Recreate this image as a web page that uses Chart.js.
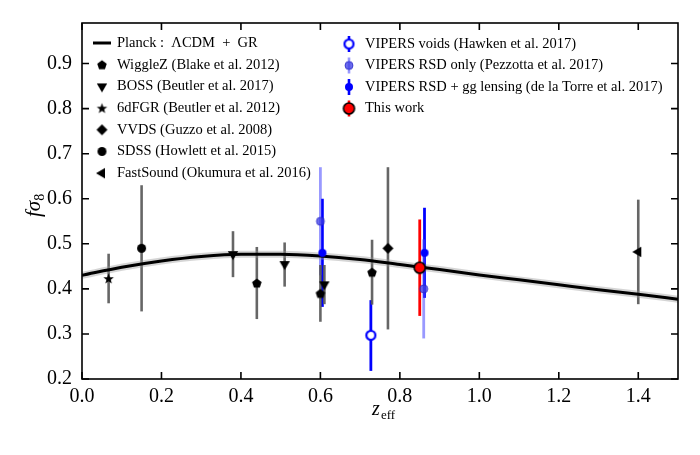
<!DOCTYPE html>
<html>
<head>
<meta charset="utf-8">
<script src="https://cdn.jsdelivr.net/npm/chart.js@4/dist/chart.umd.min.js"></script>
<style>
  html, body { margin: 0; padding: 0; background: #fff; }
  #wrap { width: 700px; height: 455px; }
</style>
</head>
<body>
<div id="wrap"><canvas id="chart" width="700" height="455"></canvas></div>
<script>
const xTicks = [0.0, 0.2, 0.4, 0.6, 0.8, 1.0, 1.2, 1.4]
const yTicks = [0.2, 0.3, 0.4, 0.5, 0.6, 0.7, 0.8, 0.9]

// Planck LCDM + GR prediction
const modelZ = [0.0, 0.1, 0.2, 0.3, 0.4, 0.5, 0.6, 0.7, 0.8, 0.9, 1.0, 1.1, 1.2, 1.3, 1.4, 1.5]
const modelF = [0.430, 0.448, 0.462, 0.472, 0.477, 0.477, 0.473, 0.465, 0.454, 0.443, 0.431, 0.420, 0.409, 0.398, 0.388, 0.377]

// measurements: z, f sigma8, lower / upper error
const wiggleZ = { z: [0.44, 0.60, 0.73], f: [0.413, 0.390, 0.437], lo: [0.080, 0.063, 0.072], hi: [0.080, 0.063, 0.072] }
const boss = { z: [0.38, 0.51, 0.61], f: [0.477, 0.455, 0.410], lo: [0.051, 0.050, 0.044], hi: [0.051, 0.048, 0.043] }
const sixdf = { z: [0.067], f: [0.423], lo: [0.055], hi: [0.055] }
const vvds = { z: [0.77], f: [0.490], lo: [0.180], hi: [0.180] }
const sdss = { z: [0.15], f: [0.490], lo: [0.140], hi: [0.140] }
const fastSound = { z: [1.40], f: [0.482], lo: [0.116], hi: [0.116] }
const voids = { z: [0.727], f: [0.297], lo: [0.079], hi: [0.078] }
const rsdOnly = { z: [0.60, 0.86], f: [0.550, 0.400], lo: [0.120, 0.110], hi: [0.120, 0.110] }
const rsdLensing = { z: [0.605, 0.862], f: [0.480, 0.480], lo: [0.120, 0.100], hi: [0.120, 0.100] }
const thisWork = { z: [0.85], f: [0.447], lo: [0.107], hi: [0.107] }

const GRAY = 'rgba(85,85,85,0.9)'
const BLUE = '#0000ff'

function marker(shape, size, fill, stroke, lw) {
  const c = document.createElement('canvas')
  c.width = c.height = size + 4
  const ctx = c.getContext('2d')
  const m = c.width / 2, r = size / 2
  ctx.beginPath()
  if (shape === 'circle') {
    ctx.arc(m, m, r, 0, Math.PI * 2)
  } else if (shape === 'down' || shape === 'left') {
    const a0 = shape === 'down' ? Math.PI / 2 : Math.PI
    for (let i = 0; i < 3; i++) {
      const a = a0 + i * 2 * Math.PI / 3
      ctx.lineTo(m + r * Math.cos(a), m + r * Math.sin(a))
    }
  } else if (shape === 'diamond') {
    ctx.moveTo(m, m - r); ctx.lineTo(m + r, m); ctx.lineTo(m, m + r); ctx.lineTo(m - r, m)
  } else if (shape === 'pentagon') {
    for (let i = 0; i < 5; i++) {
      const a = -Math.PI / 2 + i * 2 * Math.PI / 5
      ctx.lineTo(m + r * Math.cos(a), m + r * Math.sin(a) + 0.5)
    }
  } else if (shape === 'star') {
    for (let i = 0; i < 10; i++) {
      const a = -Math.PI / 2 + i * Math.PI / 5
      const rr = i % 2 ? r * 0.42 : r
      ctx.lineTo(m + rr * Math.cos(a), m + rr * Math.sin(a) + 0.5)
    }
  }
  ctx.closePath()
  ctx.fillStyle = fill
  ctx.fill()
  if (stroke) { ctx.lineWidth = lw; ctx.strokeStyle = stroke; ctx.stroke() }
  return c
}

const mk = {
  pentagon: marker('pentagon', 10, '#000'),
  down: marker('down', 12, '#000'),
  star: marker('star', 11, '#000'),
  diamond: marker('diamond', 11, '#000'),
  circle: marker('circle', 9, '#000'),
  left: marker('left', 12, '#000'),
  voids: marker('circle', 9, '#fff', BLUE, 2.2),
  rsdOnly: marker('circle', 8, 'rgba(60,60,230,0.75)', 'rgba(40,40,200,0.8)', 1),
  rsdLensing: marker('circle', 8, BLUE),
  thisWork: marker('circle', 11, '#ff0000', '#000', 1.6)
}

function pts(s) { return s.z.map((z, i) => ({ x: z, y: s.f[i] })) }

function series(label, s, style, barColor, barWidth) {
  return { label, data: pts(s), pointStyle: style, pointRadius: 5, pointHoverRadius: 5, showLine: false,
    err: s, barColor, barWidth }
}

const datasets = [
  series('This work', thisWork, mk.thisWork, '#ff0000', 2.8),
  series('VIPERS RSD + gg lensing', rsdLensing, mk.rsdLensing, BLUE, 2.8),
  series('VIPERS RSD only', rsdOnly, mk.rsdOnly, 'rgba(70,70,255,0.55)', 2.8),
  series('VIPERS voids', voids, mk.voids, BLUE, 2.8),
  series('WiggleZ', wiggleZ, mk.pentagon, GRAY, 2.6),
  series('BOSS', boss, mk.down, GRAY, 2.6),
  series('6dFGR', sixdf, mk.star, GRAY, 2.6),
  series('VVDS', vvds, mk.diamond, GRAY, 2.6),
  series('SDSS', sdss, mk.circle, GRAY, 2.6),
  series('FastSound', fastSound, mk.left, GRAY, 2.6),
  { label: 'Planck', type: 'line', data: modelZ.map((z, i) => ({ x: z, y: modelF[i] })),
    borderColor: '#000', borderWidth: 3, pointRadius: 0, tension: 0.4, cubicInterpolationMode: 'monotone' },
  { label: 'band', type: 'line', data: modelZ.map((z, i) => ({ x: z, y: modelF[i] })),
    borderColor: 'rgba(150,150,150,0.4)', borderWidth: 7, pointRadius: 0, tension: 0.4, cubicInterpolationMode: 'monotone' }
]

const FONT = '"Liberation Serif", "DejaVu Serif", serif'

const errorBars = {
  id: 'errorBars',
  beforeDatasetsDraw(chart) {
    const { ctx } = chart
    const xs = chart.scales.x, ys = chart.scales.y
    ctx.save()
    chart.data.datasets.forEach(ds => {
      if (!ds.err) return
      const e = ds.err
      ctx.strokeStyle = ds.barColor
      ctx.lineWidth = ds.barWidth
      e.z.forEach((z, i) => {
        const px = xs.getPixelForValue(z)
        ctx.beginPath()
        ctx.moveTo(px, ys.getPixelForValue(e.f[i] - e.lo[i]))
        ctx.lineTo(px, ys.getPixelForValue(e.f[i] + e.hi[i]))
        ctx.stroke()
      })
    })
    ctx.restore()
  }
}

const frame = {
  id: 'frame',
  afterDraw(chart) {
    const { ctx, chartArea: a } = chart
    const xs = chart.scales.x, ys = chart.scales.y
    ctx.save()
    ctx.strokeStyle = '#000'
    ctx.lineWidth = 1.6
    ctx.strokeRect(a.left, a.top, a.right - a.left, a.bottom - a.top)
    ctx.beginPath()
    xTicks.forEach(v => {
      const px = xs.getPixelForValue(v)
      ctx.moveTo(px, a.bottom); ctx.lineTo(px, a.bottom - 7)
      ctx.moveTo(px, a.top); ctx.lineTo(px, a.top + 7)
    })
    yTicks.forEach(v => {
      const py = ys.getPixelForValue(v)
      ctx.moveTo(a.left, py); ctx.lineTo(a.left + 7, py)
      ctx.moveTo(a.right, py); ctx.lineTo(a.right - 7, py)
    })
    ctx.stroke()

    // axis titles
    ctx.fillStyle = '#000'
    ctx.textBaseline = 'alphabetic'
    ctx.font = 'italic 20px ' + FONT
    ctx.fillText('z', 372, 415)
    ctx.font = '13px ' + FONT
    ctx.fillText('eff', 381, 419)

    ctx.save()
    ctx.translate(40, 217)
    ctx.rotate(-Math.PI / 2)
    ctx.font = 'italic 21px ' + FONT
    ctx.fillText('fσ', 0, 0)
    const w = ctx.measureText('fσ').width
    ctx.font = '14px ' + FONT
    ctx.fillText('8', w, 4)
    ctx.restore()

    // legend
    ctx.font = '14.5px ' + FONT
    ctx.textBaseline = 'middle'
    const left = [
      [null, 'Planck :  ΛCDM  +  GR'],
      [mk.pentagon, 'WiggleZ (Blake et al. 2012)'],
      [mk.down, 'BOSS (Beutler et al. 2017)'],
      [mk.star, '6dFGR (Beutler et al. 2012)'],
      [mk.diamond, 'VVDS (Guzzo et al. 2008)'],
      [mk.circle, 'SDSS (Howlett et al. 2015)'],
      [mk.left, 'FastSound (Okumura et al. 2016)']
    ]
    left.forEach(([m, t], i) => {
      const y = 43 + i * 21.7
      if (!m) {
        ctx.lineWidth = 3
        ctx.beginPath(); ctx.moveTo(93, y); ctx.lineTo(111, y); ctx.stroke()
      } else {
        ctx.drawImage(m, 102 - m.width / 2, y - m.height / 2)
      }
      ctx.fillText(t, 117, y)
    })
    const right = [
      [mk.voids, BLUE, 'VIPERS voids (Hawken et al. 2017)'],
      [mk.rsdOnly, 'rgba(70,70,255,0.55)', 'VIPERS RSD only (Pezzotta et al. 2017)'],
      [mk.rsdLensing, BLUE, 'VIPERS RSD + gg lensing (de la Torre et al. 2017)'],
      [mk.thisWork, '#ff0000', 'This work']
    ]
    right.forEach(([m, c, t], i) => {
      const y = 44 + i * 21.5
      ctx.strokeStyle = c
      ctx.lineWidth = 2.6
      ctx.beginPath(); ctx.moveTo(349, y - 8); ctx.lineTo(349, y + 8); ctx.stroke()
      ctx.drawImage(m, 349 - m.width / 2, y - m.height / 2)
      ctx.fillStyle = '#000'
      ctx.fillText(t, 365, y)
    })
    ctx.restore()
  }
}

new Chart(document.getElementById('chart'), {
  type: 'scatter',
  data: { datasets },
  options: {
    responsive: false,
    animation: false,
    events: [],
    layout: { padding: { left: 0, top: 23, right: 22, bottom: 0 } },
    plugins: { legend: { display: false }, tooltip: { enabled: false } },
    scales: {
      x: {
        type: 'linear', min: 0, max: 1.5,
        grid: { display: false, drawTicks: false }, border: { display: false },
        afterBuildTicks: s => { s.ticks = xTicks.map(v => ({ value: v })) },
        afterFit: s => { s.height = 76 },
        ticks: { color: '#000', padding: 6, font: { family: FONT, size: 20 }, callback: v => v.toFixed(1) }
      },
      y: {
        type: 'linear', min: 0.2, max: 0.99,
        grid: { display: false, drawTicks: false }, border: { display: false },
        afterBuildTicks: s => { s.ticks = yTicks.map(v => ({ value: v })) },
        afterFit: s => { s.width = 82 },
        ticks: { color: '#000', padding: 10, font: { family: FONT, size: 20 }, callback: v => v.toFixed(1) }
      }
    }
  },
  plugins: [errorBars, frame]
})
</script>
</body>
</html>
